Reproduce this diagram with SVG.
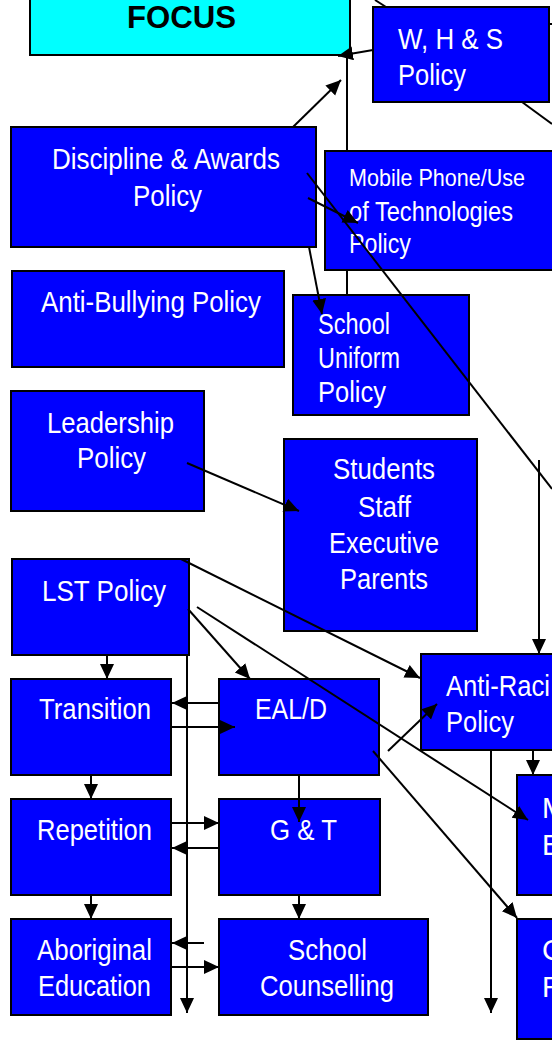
<svg xmlns="http://www.w3.org/2000/svg" width="552" height="1042" viewBox="0 0 552 1042">
<defs>
<style>
.box{fill:#0000FF;stroke:#000;stroke-width:2}
.focus{fill:#00FFFF;stroke:#000;stroke-width:2}
.t{fill:#FFFFFF;font-family:"Liberation Sans Narrow","Liberation Sans",Arial,sans-serif;font-size:29px}
.ft{fill:#000;font-family:"Liberation Sans",Arial,sans-serif;font-size:31px;font-weight:bold}
.c line{stroke:#000;stroke-width:2;fill:none}
.a{marker-end:url(#ah)}
</style>
<marker id="ah" markerUnits="userSpaceOnUse" markerWidth="16" markerHeight="16" refX="15" refY="7" orient="auto">
<path d="M0,0 L15,7 L0,14 Z" fill="#000"/>
</marker>
</defs>
<rect width="552" height="1042" fill="#FFFFFF"/>
<g id="focus"><rect class="focus" x="30" y="-10" width="320" height="65"/><text class="ft" x="127" y="28" textLength="109" lengthAdjust="spacingAndGlyphs">FOCUS</text></g>
<g id="whs"><rect class="box" x="373" y="7" width="176" height="95"/><text class="t" x="398" y="49" textLength="105" lengthAdjust="spacingAndGlyphs">W, H &amp; S</text><text class="t" x="398" y="85" textLength="68" lengthAdjust="spacingAndGlyphs">Policy</text></g>
<g id="discipline"><rect class="box" x="11" y="127" width="305" height="120"/><text class="t" x="52" y="169" textLength="228" lengthAdjust="spacingAndGlyphs">Discipline &amp; Awards</text><text class="t" x="133" y="206" textLength="69" lengthAdjust="spacingAndGlyphs">Policy</text></g>
<g id="mobile"><rect class="box" x="325" y="151" width="240" height="119"/><text class="t" x="349" y="186" style="font-size:24px" textLength="176" lengthAdjust="spacingAndGlyphs">Mobile Phone/Use</text><text class="t" x="349" y="221" style="font-size:27px" textLength="164" lengthAdjust="spacingAndGlyphs">of Technologies</text><text class="t" x="349" y="253" style="font-size:27px" textLength="62" lengthAdjust="spacingAndGlyphs">Policy</text></g>
<g id="antibullying"><rect class="box" x="12" y="271" width="272" height="96"/><text class="t" x="41" y="312" textLength="220" lengthAdjust="spacingAndGlyphs">Anti-Bullying Policy</text></g>
<g id="uniform"><rect class="box" x="293" y="295" width="176" height="120"/><text class="t" x="318" y="334" textLength="72" lengthAdjust="spacingAndGlyphs">School</text><text class="t" x="318" y="368" textLength="82" lengthAdjust="spacingAndGlyphs">Uniform</text><text class="t" x="318" y="402" textLength="68" lengthAdjust="spacingAndGlyphs">Policy</text></g>
<g id="leadership"><rect class="box" x="11" y="391" width="193" height="120"/><text class="t" x="47" y="433" textLength="127" lengthAdjust="spacingAndGlyphs">Leadership</text><text class="t" x="77" y="468" textLength="69" lengthAdjust="spacingAndGlyphs">Policy</text></g>
<g id="students"><rect class="box" x="284" y="439" width="193" height="192"/><text class="t" x="333" y="479" textLength="102" lengthAdjust="spacingAndGlyphs">Students</text><text class="t" x="358" y="517" textLength="53" lengthAdjust="spacingAndGlyphs">Staff</text><text class="t" x="329" y="553" textLength="110" lengthAdjust="spacingAndGlyphs">Executive</text><text class="t" x="340" y="589" textLength="88" lengthAdjust="spacingAndGlyphs">Parents</text></g>
<g id="lst"><rect class="box" x="12" y="559" width="177" height="96"/><text class="t" x="42" y="601" textLength="124" lengthAdjust="spacingAndGlyphs">LST Policy</text></g>
<g id="transition"><rect class="box" x="11" y="679" width="160" height="96"/><text class="t" x="39" y="719" textLength="112" lengthAdjust="spacingAndGlyphs">Transition</text></g>
<g id="eald"><rect class="box" x="219" y="679" width="160" height="96"/><text class="t" x="255" y="719" textLength="72" lengthAdjust="spacingAndGlyphs">EAL/D</text></g>
<g id="repetition"><rect class="box" x="11" y="799" width="160" height="96"/><text class="t" x="37" y="840" textLength="115" lengthAdjust="spacingAndGlyphs">Repetition</text></g>
<g id="gt"><rect class="box" x="219" y="799" width="161" height="96"/><text class="t" x="270" y="840" textLength="67" lengthAdjust="spacingAndGlyphs">G &amp; T</text></g>
<g id="aboriginal"><rect class="box" x="11" y="919" width="160" height="96"/><text class="t" x="37" y="960" textLength="115" lengthAdjust="spacingAndGlyphs">Aboriginal</text><text class="t" x="38" y="996" textLength="113" lengthAdjust="spacingAndGlyphs">Education</text></g>
<g id="counselling"><rect class="box" x="219" y="919" width="209" height="96"/><text class="t" x="288" y="960" textLength="79" lengthAdjust="spacingAndGlyphs">School</text><text class="t" x="260" y="996" textLength="134" lengthAdjust="spacingAndGlyphs">Counselling</text></g>
<g id="antiracism"><rect class="box" x="421" y="654" width="150" height="96"/><text class="t" x="446" y="696" textLength="104" lengthAdjust="spacingAndGlyphs">Anti-Raci</text><text class="t" x="446" y="732" textLength="68" lengthAdjust="spacingAndGlyphs">Policy</text></g>
<g id="me"><rect class="box" x="517" y="775" width="60" height="120"/><text class="t" x="542" y="818">M</text><text class="t" x="542" y="855">E</text></g>
<g id="cr"><rect class="box" x="517" y="919" width="60" height="120"/><text class="t" x="542" y="960">C</text><text class="t" x="542" y="997">R</text></g>
<g id="connectors" class="c">
<line x1="347" y1="55" x2="347" y2="150"/>
<line x1="347" y1="271" x2="347" y2="294"/>
<line x1="375" y1="0" x2="386" y2="7"/>
<line x1="549" y1="24" x2="552" y2="24"/>
<line x1="522" y1="102" x2="552" y2="124"/>
<line class="a" x1="373" y1="50" x2="338" y2="56"/>
<line class="a" x1="293" y1="127" x2="341" y2="80"/>
<line x1="307" y1="173" x2="552" y2="489"/>
<line class="a" x1="308" y1="198" x2="358" y2="223"/>
<line class="a" x1="309" y1="247" x2="322" y2="314"/>
<line class="a" x1="187" y1="463" x2="299" y2="511"/>
<line class="a" x1="539" y1="460" x2="539" y2="654"/>
<line class="a" x1="181" y1="559" x2="420" y2="678"/>
<line class="a" x1="388" y1="751" x2="437" y2="704"/>
<line class="a" x1="197" y1="607" x2="528" y2="820"/>
<line class="a" x1="373" y1="751" x2="517" y2="918"/>
<line class="a" x1="491" y1="750" x2="491" y2="1013"/>
<line class="a" x1="533" y1="750" x2="533" y2="775"/>
<line class="a" x1="107" y1="655" x2="107" y2="679"/>
<line class="a" x1="91" y1="775" x2="91" y2="799"/>
<line class="a" x1="91" y1="895" x2="91" y2="919"/>
<line class="a" x1="187" y1="655" x2="187" y2="1013"/>
<line class="a" x1="188" y1="609" x2="250" y2="679"/>
<line class="a" x1="219" y1="703" x2="172" y2="703"/>
<line class="a" x1="171" y1="727" x2="235" y2="727"/>
<line class="a" x1="299" y1="775" x2="299" y2="822"/>
<line class="a" x1="171" y1="823" x2="219" y2="823"/>
<line class="a" x1="219" y1="848" x2="172" y2="848"/>
<line class="a" x1="299" y1="895" x2="299" y2="919"/>
<line class="a" x1="204" y1="943" x2="172" y2="943"/>
<line class="a" x1="171" y1="967" x2="219" y2="967"/>
</g>
</svg>
